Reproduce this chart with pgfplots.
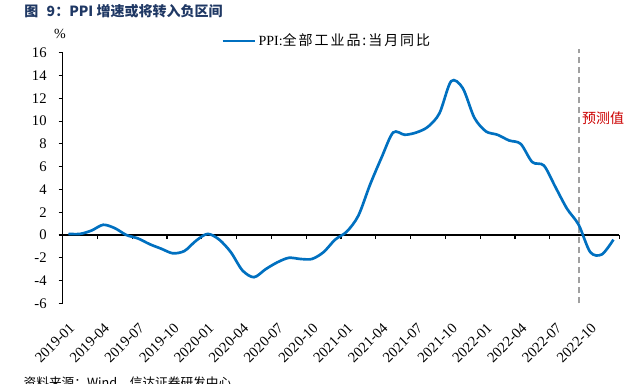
\documentclass[border=0pt]{standalone}
\usepackage{pgfplots}
\pgfplotsset{compat=1.18}
\usepackage{pgfplotstable}
\usepackage{fontspec}
\setmainfont{Liberation Serif}
\newfontfamily\cjk{Noto Sans CJK SC}
\newfontfamily\cjkl{Noto Sans CJK SC}[LetterSpace=14]
\definecolor{ppiblue}{RGB}{0,112,192}
\definecolor{titleblue}{RGB}{31,56,100}
\definecolor{predred}{RGB}{204,0,0}
\definecolor{dashgray}{RGB}{160,160,160}
\pgfplotstableread{
x y
0 0.1
1 0.1
2 0.4
3 0.9
4 0.6
5 0.0
6 -0.3
7 -0.8
8 -1.2
9 -1.6
10 -1.4
11 -0.5
12 0.1
13 -0.4
14 -1.5
15 -3.1
16 -3.7
17 -3.0
18 -2.4
19 -2.0
20 -2.1
21 -2.1
22 -1.5
23 -0.4
24 0.3
25 1.7
26 4.4
27 6.8
28 9.0
29 8.8
30 9.0
31 9.5
32 10.7
33 13.5
34 12.9
35 10.3
36 9.1
37 8.8
38 8.3
39 8.0
40 6.4
41 6.1
42 4.2
43 2.3
44 0.9
45 -1.5
46 -1.7
47 -0.4
}\ppidata
\begin{document}
\begin{tikzpicture}
\useasboundingbox (0,0) rectangle (478.5pt,287.25pt);
% zero line with ticks
\begin{axis}[
  at={(47pt,59.7pt)}, anchor=south west,
  scale only axis, width=417.45pt, height=188pt,
  xmin=-0.5, xmax=47.5, ymin=-6, ymax=16,
  axis x line*=middle, axis y line=none,
  x axis line style={black, line width=1.2pt},
  xtick={-0.5,2.5,...,47.5}, xticklabels={},
  tick align=outside, major tick length=3pt,
  x tick style={black, line width=0.9pt},
  ytick=\empty,
  hide obscured x ticks=false,
]
\addplot[draw=none] coordinates {(0,0)};
\end{axis}
% main axis
\begin{axis}[
  at={(47pt,59.7pt)}, anchor=south west,
  scale only axis, width=417.45pt, height=188pt,
  xmin=-0.5, xmax=47.5, ymin=-6, ymax=16,
  axis y line*=left, axis x line*=bottom,
  x axis line style={draw=none},
  y axis line style={black, line width=0.9pt},
  xtick={0,3,...,45},
  xticklabels={2019-01,2019-04,2019-07,2019-10,2020-01,2020-04,2020-07,2020-10,2021-01,2021-04,2021-07,2021-10,2022-01,2022-04,2022-07,2022-10},
  x tick style={draw=none},
  ytick={-6,-4,...,16},
  y tick style={black, line width=0.9pt},
  tick align=outside, major tick length=3pt,
  /pgf/number format/assume math mode=true,
  tick label style={font=\fontsize{11}{12}\selectfont},
  xticklabel style={yshift=-6pt, rotate=45, anchor=north east},
  yticklabel style={xshift=-5.5pt},
  legend style={draw=none, fill=none, at={(0.2844,1.0467)}, anchor=west, inner sep=0pt,
    font=\fontsize{10.5}{12}\selectfont},
  legend image code/.code={\draw[#1] (0pt,0pt) -- (24pt,0pt);},
  clip=false,
]
\addplot[dashgray, line width=1.6pt, dash pattern=on 5pt off 2.5pt, forget plot] coordinates {(44,-6) (44,16.3)};
\addplot[ppiblue, line width=2pt, smooth] table[x=x,y=y] {\ppidata};
\addlegendentry{PPI:{\cjkl 全部工业品:当月同比}}
\end{axis}
\node[text=titleblue, font=\cjk\bfseries\fontsize{10.5}{12}\selectfont] at (92.6pt,279pt) {图\hspace{0.6em}9：PPI 增速或将转入负区间};
\node[font=\fontsize{10.5}{12}\selectfont] at (45pt,261.75pt) {\%};
\node[text=predred, font=\cjk\fontsize{10.5}{12}\selectfont] at (452.25pt,198.75pt) {预测值};
\node[font=\cjk\fontsize{9.5}{11}\selectfont] at (95.6pt,0pt) {资料来源：Wind，信达证券研发中心};
\end{tikzpicture}
\end{document}
